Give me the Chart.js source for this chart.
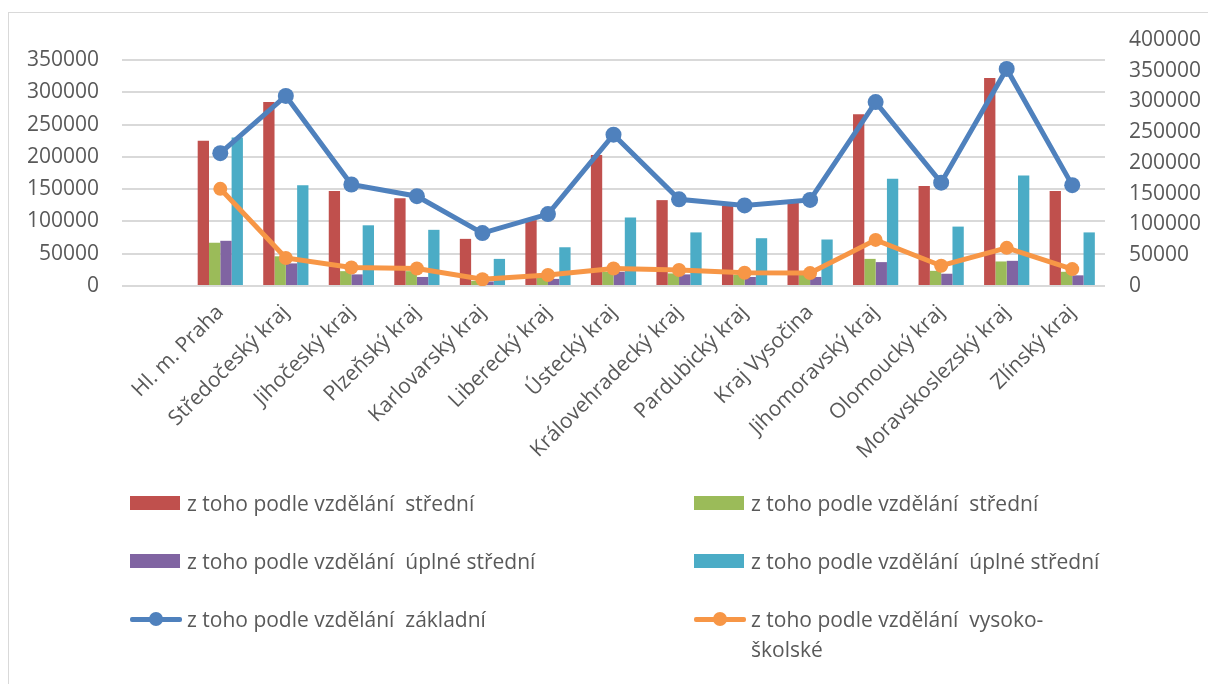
<!DOCTYPE html>
<html>
<head>
<meta charset="utf-8">
<script src="https://cdn.jsdelivr.net/npm/chart.js@4"></script>
<style>
    html, body { margin: 0; padding: 0; background: #fff; }
    #frame { position: absolute; left: 8px; top: 12px; width: 1200px; height: 672px;
             border-left: 1px solid #d9d9d9; border-top: 1px solid #d9d9d9; }
    #box { position: absolute; left: 0; top: 0; width: 1208px; height: 684px; }
    #legend { position: absolute; left: 0; top: 0; font-family: "Open Sans", sans-serif;
              font-size: 21px; color: #595959; }
    .item { position: absolute; white-space: pre; line-height: 30px; }
    .sw { position: absolute; }
</style>
</head>
<body>
<div id="frame"></div>
<div id="box"><canvas id="chart" width="1208" height="684"></canvas></div>
<div id="legend"></div>
<script>
const regions = ['', 'Hl. m. Praha', 'Středočeský kraj', 'Jihočeský kraj', 'Plzeňský kraj', 'Karlovarský kraj',
    'Liberecký kraj', 'Ústecký kraj', 'Královehradecký kraj', 'Pardubický kraj', 'Kraj Vysočina',
    'Jihomoravský kraj', 'Olomoucký kraj', 'Moravskoslezský kraj', 'Zlínský kraj'];

const stredniA = [null, 225000, 285000, 147000, 136000, 73000, 102000, 203000, 133000, 124000, 129000, 266000, 155000, 322000, 147000];
const stredniB = [null, 67000, 46000, 23000, 23000, 8000, 14000, 22000, 19500, 17000, 17000, 42000, 23500, 38000, 22000];
const uplnaA = [null, 70000, 35000, 18000, 14000, 7000, 11000, 22000, 18000, 14000, 14000, 37000, 19000, 39000, 16500];
const uplnaB = [null, 230000, 156000, 94000, 87000, 42000, 60000, 106000, 83000, 74000, 72000, 166000, 92000, 171000, 83000];
const zakladni = [null, 216000, 309000, 165000, 146000, 86000, 117000, 246000, 141000, 131000, 140000, 299000, 168000, 353000, 164000];
const vysoko = [null, 158000, 45500, 30000, 28500, 11000, 18000, 28500, 26000, 21500, 21000, 75000, 33000, 62000, 27500];

const leftTicks = [0, 50000, 100000, 150000, 200000, 250000, 300000, 350000];
const rightTicks = [0, 50000, 100000, 150000, 200000, 250000, 300000, 350000, 400000];

const tickFont = { family: 'Open Sans', size: 21 };
const grey = '#595959';

const ctx = document.getElementById('chart').getContext('2d');

const chart = new Chart(ctx, {
    type: 'bar',
    data: {
        labels: regions,
        datasets: [
            { label: 'z toho podle vzdělání  střední', data: stredniA, backgroundColor: '#C0504D', yAxisID: 'y', order: 2 },
            { label: 'z toho podle vzdělání  střední', data: stredniB, backgroundColor: '#9BBB59', yAxisID: 'y', order: 2 },
            { label: 'z toho podle vzdělání  úplné střední', data: uplnaA, backgroundColor: '#8064A2', yAxisID: 'y', order: 2 },
            { label: 'z toho podle vzdělání  úplné střední', data: uplnaB, backgroundColor: '#4BACC6', yAxisID: 'y', order: 2 },
            {
                type: 'line', label: 'z toho podle vzdělání  základní', data: zakladni, yAxisID: 'y1', order: 1,
                borderColor: '#4F81BD', backgroundColor: '#4F81BD', borderWidth: 5, pointRadius: 8,
                pointBorderWidth: 0, tension: 0
            },
            {
                type: 'line', label: 'z toho podle vzdělání  vysoko-\nškolské', data: vysoko, yAxisID: 'y1', order: 0,
                borderColor: '#F79646', backgroundColor: '#F79646', borderWidth: 5, pointRadius: 7,
                pointBorderWidth: 0, tension: 0
            }
        ]
    },
    options: {
        responsive: false,
        animation: false,
        layout: { padding: { top: 40, left: 0, right: 0, bottom: 0 } },
        datasets: { bar: { categoryPercentage: 0.69, barPercentage: 1 } },
        plugins: { legend: { display: false }, tooltip: { enabled: false } },
        scales: {
            x: {
                grid: { display: false },
                border: { display: false },
                ticks: { font: tickFont, color: grey, minRotation: 45, maxRotation: 45, autoSkip: false, padding: 6 },
                afterFit: s => { s.height = 684 - 286; }
            },
            y: {
                position: 'left',
                min: 0,
                max: 381000,
                grid: { color: '#d9d9d9', lineWidth: 2, drawTicks: false },
                border: { display: false },
                ticks: { font: tickFont, color: grey, padding: 23, callback: v => String(v) },
                afterBuildTicks: s => { s.ticks = leftTicks.map(v => ({ value: v })); },
                afterFit: s => { s.width = 122; }
            },
            y1: {
                position: 'right',
                min: 0,
                max: 400000,
                grid: { display: false, drawTicks: false },
                border: { display: false },
                ticks: { font: tickFont, color: grey, padding: 24, callback: v => String(v) },
                afterBuildTicks: s => { s.ticks = rightTicks.map(v => ({ value: v })); },
                afterFit: s => { s.width = 1208 - 1105; }
            }
        }
    }
});

// legend in two columns, like the original
const legend = document.getElementById('legend');
const slots = [[130, 503], [694, 503], [130, 561], [694, 561], [130, 619], [694, 619]];
chart.data.datasets.forEach((ds, i) => {
    const [x, y] = slots[i];
    const sw = document.createElement('div');
    sw.className = 'sw';
    if (ds.type === 'line') {
        sw.style.cssText = `left:${x}px;top:${y - 2.5}px;width:52px;height:5px;background:${ds.borderColor};border-radius:2px`;
        const dot = document.createElement('div');
        dot.className = 'sw';
        dot.style.cssText = `left:${x + 26 - 7}px;top:${y - 7}px;width:14px;height:14px;border-radius:7px;background:${ds.borderColor}`;
        legend.appendChild(dot);
    } else {
        sw.style.cssText = `left:${x}px;top:${y - 7}px;width:50px;height:14px;background:${ds.backgroundColor}`;
    }
    legend.appendChild(sw);
    const t = document.createElement('div');
    t.className = 'item';
    t.style.cssText = `left:${x + 57}px;top:${y - 15}px`;
    t.textContent = ds.label;
    legend.appendChild(t);
});
</script>
</body>
</html>
